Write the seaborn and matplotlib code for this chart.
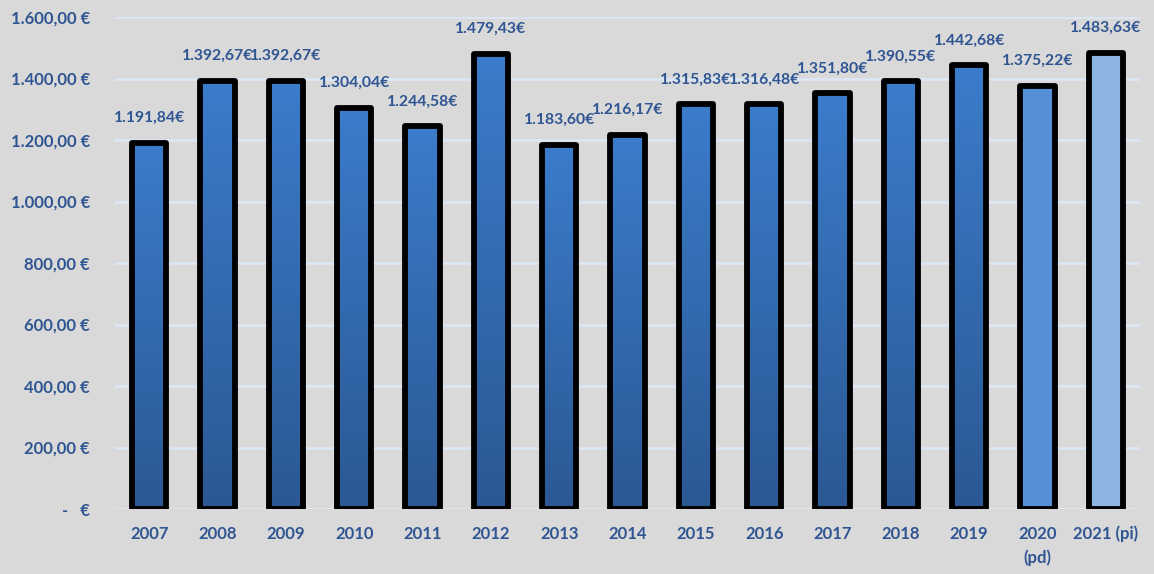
import numpy as np
import pandas as pd
import matplotlib
matplotlib.use("Agg")
import matplotlib.pyplot as plt
import seaborn as sns
from matplotlib.colors import LinearSegmentedColormap

# data
years = ["2007", "2008", "2009", "2010", "2011", "2012", "2013", "2014",
         "2015", "2016", "2017", "2018", "2019", "2020\n(pd)", "2021 (pi)"]
values = [1191.84, 1392.67, 1392.67, 1304.04, 1244.58, 1479.43, 1183.60, 1216.17,
          1315.83, 1316.48, 1351.80, 1390.55, 1442.68, 1375.22, 1483.63]
kinds = ["def"] * 13 + ["pd", "pi"]

df = pd.DataFrame({"year": years, "value": values, "kind": kinds})

sns.set_style("white")
plt.rcParams['font.family'] = ['Lato', 'DejaVu Sans']

bg = "#D9D9D9"
txt = "#2F5592"

fig = plt.figure(figsize=(11.54, 5.74), dpi=100, facecolor=bg)
ax = fig.add_axes([115/1154, 1 - 509/574, 1025/1154, 492/574])
ax.set_facecolor(bg)

sns.barplot(data=df, x="year", y="value", ax=ax, width=0.5, color="#3A7AC8",
            edgecolor="black", linewidth=4.2, zorder=3)

# gradient fill / solid fills for provisional years
grad = LinearSegmentedColormap.from_list("g", ["#2B5893", "#3B7CCB"])
solid = {"pd": "#5590D6", "pi": "#8DB4E3"}
for patch, kind in zip(ax.patches, df["kind"]):
    patch.set_joinstyle("round")
    if kind == "def":
        x0, y0 = patch.get_x(), patch.get_y()
        w, h = patch.get_width(), patch.get_height()
        patch.set_facecolor("none")
        img = ax.imshow(np.linspace(0, 1, 256).reshape(-1, 1), cmap=grad,
                        extent=[x0, x0 + w, y0, y0 + h], origin="lower",
                        aspect="auto", zorder=2.5)
        img.set_clip_path(patch)
    else:
        patch.set_facecolor(solid[kind])

def eur(v):
    s = f"{v:,.2f}".replace(",", "X").replace(".", ",").replace("X", ".")
    return s

for i, v in enumerate(values):
    ax.text(i, v + 58, eur(v) + "€", ha="center", va="bottom", color=txt,
            fontsize=11.3, fontweight="bold", zorder=4)

ax.set_xlim(-0.5, len(years) - 0.5)
ax.set_ylim(0, 1600)
yt = np.arange(0, 1601, 200)
ax.set_yticks(yt)
ax.set_yticklabels(["-   €" if t == 0 else eur(t) + " €" for t in yt])
ax.yaxis.grid(True, color="#DCE7F5", linewidth=2, zorder=0)
ax.set_axisbelow(True)
ax.tick_params(axis="y", length=0, pad=18, labelsize=12, labelcolor=txt)
ax.tick_params(axis="x", length=0, pad=12, labelsize=12, labelcolor=txt)
for lab in ax.get_xticklabels() + ax.get_yticklabels():
    lab.set_fontweight("bold")
for lab in ax.get_xticklabels():
    lab.set_linespacing(1.6)
ax.set_xlabel("")
ax.set_ylabel("")
sns.despine(ax=ax, left=True, bottom=True)

fig.savefig("out.png", dpi=100, facecolor=bg)
